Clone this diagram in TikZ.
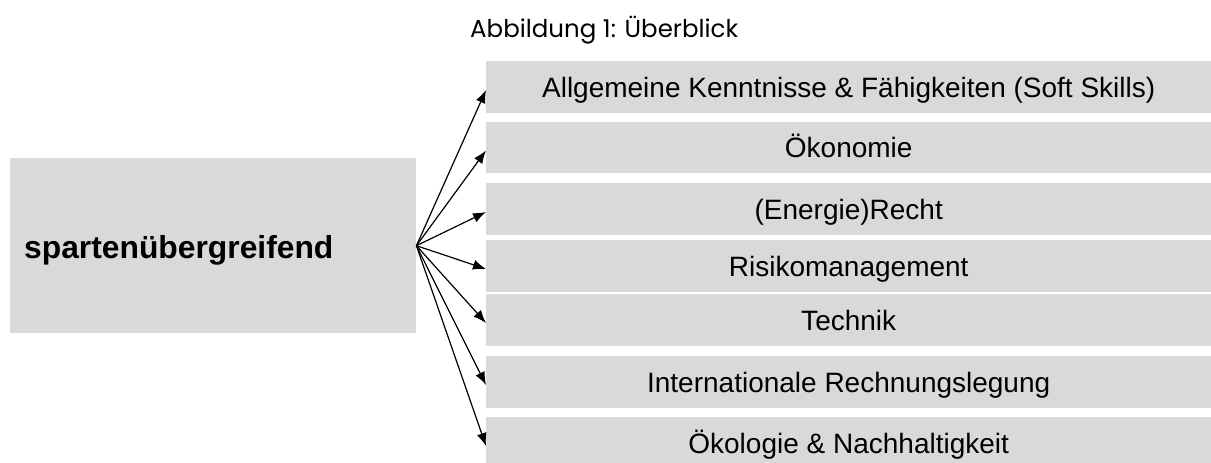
\documentclass[tikz,border=0pt]{standalone}
\usepackage{fontspec}
\setmainfont{Liberation Sans}
\newfontfamily\titlefont{Poppins}
\usetikzlibrary{arrows.meta}
\definecolor{boxgray}{HTML}{D9D9D9}
\tikzset{
  rbox/.style={fill=boxgray, draw=none, minimum width=725pt, minimum height=52pt,
    anchor=west, inner sep=0pt, text height=20pt, text depth=0pt,
    font=\fontsize{28}{32}\selectfont},
  lbox/.style={fill=boxgray, draw=none, minimum width=406pt, minimum height=175pt,
    anchor=north west, inner sep=0pt},
  conn/.style={line width=1.2pt, -{Latex[length=13pt,width=10pt]}}
}
\begin{document}
\begin{tikzpicture}[x=1pt,y=-1pt]
\useasboundingbox (0,0) rectangle (1211,463);
\node[anchor=base west, inner sep=0pt, font=\titlefont\fontsize{24.5}{28}\selectfont] (title) at (470,37) {Abbildung 1: Überblick};
\node[lbox] (L) at (10,158) {};
\node[anchor=base west, inner sep=0pt, font=\bfseries\fontsize{31.8}{36}\selectfont] (Ltext) at (24,258) {spartenübergreifend};
\node[rbox] (b1) at (486,87) {Allgemeine Kenntnisse \& Fähigkeiten (Soft Skills)};
\node[rbox, minimum height=51pt] (b2) at (486,147.5) {Ökonomie};
\node[rbox] (b3) at (486,209) {(Energie)Recht};
\node[rbox] (b4) at (486,266) {Risikomanagement};
\node[rbox] (b5) at (486,320) {Technik};
\node[rbox] (b6) at (486,382) {Internationale Rechnungslegung};
\node[rbox] (b7) at (486,443) {Ökologie \& Nachhaltigkeit};
\foreach \b in {b1,b2,b3,b4,b5,b6,b7}{
  \draw[conn] (L.east) -- ([yshift=-3pt]\b.west);
}
\end{tikzpicture}
\end{document}
